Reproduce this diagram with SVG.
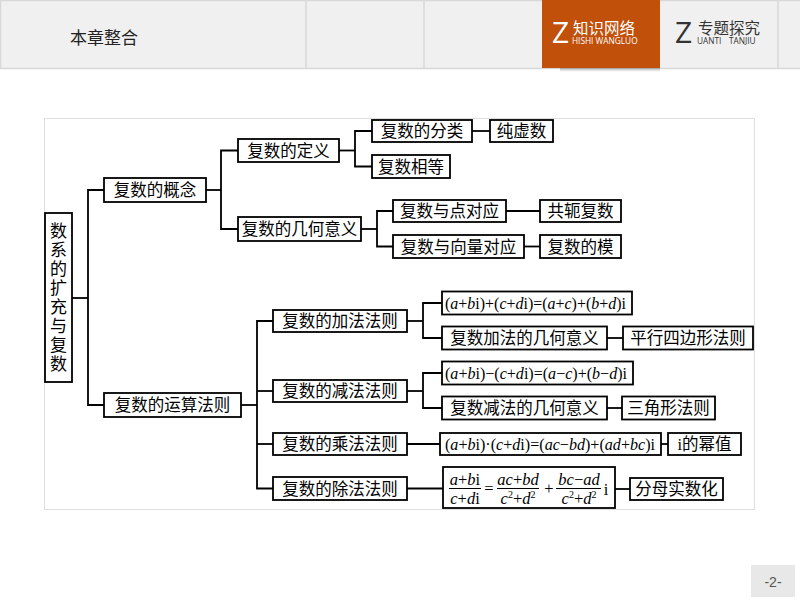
<svg xmlns="http://www.w3.org/2000/svg" width="800" height="600" viewBox="0 0 800 600">
<defs>
<style>
.box{fill:#fff;stroke:#000;stroke-width:1.8}
.t{font-family:"Noto Sans CJK SC","Noto Sans CJK JP",sans-serif;font-size:16.5px;text-anchor:middle;fill:#000}
.f{font-family:"Liberation Serif","Noto Sans CJK SC",serif;font-size:17px;fill:#000}
.fm{font-family:"Liberation Serif","Noto Sans CJK SC",serif;font-size:16.5px;fill:#000;text-anchor:middle}
.v{font-style:italic}
#connectors path{fill:none;stroke:#000;stroke-width:1.8}
.hdr{fill:#f0f0f0;stroke:none}
.div{stroke:#d8d8d8;stroke-width:1.5}
.zl{font-family:"Open Sans","Liberation Sans",sans-serif;font-size:30px}
.zc{font-family:"Noto Sans CJK SC",sans-serif;font-size:15.5px}
.zs{font-family:"Open Sans","Liberation Sans",sans-serif;font-size:8.3px}
</style>
<linearGradient id="sh" x1="0" y1="0" x2="0" y2="1">
<stop offset="0" stop-color="#000" stop-opacity="0.25"/>
<stop offset="1" stop-color="#000" stop-opacity="0"/>
</linearGradient>
</defs>
<rect width="800" height="600" fill="#fff"/>
<!-- header -->
<g id="header">
<rect class="hdr" x="0" y="0" width="800" height="68"/>
<line class="div" x1="0" y1="68.5" x2="800" y2="68.5"/>
<line class="div" x1="0" y1="0.5" x2="800" y2="0.5"/>
<line class="div" x1="0.5" y1="0" x2="0.5" y2="68"/>
<line class="div" x1="306" y1="0" x2="306" y2="68"/>
<line class="div" x1="424" y1="0" x2="424" y2="68"/>
<line class="div" x1="778" y1="0" x2="778" y2="68"/>
<text x="70" y="44" font-family="'Noto Sans CJK SC',sans-serif" font-size="17" fill="#222">本章整合</text>
<rect x="560" y="68" width="100" height="4" fill="url(#sh)"/>
<rect x="542" y="0" width="118" height="68" fill="#c0500a"/>
<text fill="#fff"><tspan class="zl" x="552" y="43">Z</tspan><tspan class="zc" x="573" y="34">知识网络</tspan><tspan class="zs" x="572" y="43.5">HISHI WANGLUO</tspan></text>
<text fill="#333"><tspan class="zl" x="675" y="43">Z</tspan><tspan class="zc" x="698" y="34">专题探究</tspan><tspan class="zs" x="697" y="43.5">UANTI</tspan><tspan class="zs" x="729" y="43.5">TANJIU</tspan></text>
</g>
<!-- panel -->
<rect x="44.5" y="118.5" width="710" height="391" fill="#fff" stroke="#dedede" stroke-width="1"/>
<!-- connectors -->
<g id="connectors">
<path d="M72,298 H88"/>
<path d="M104,190 H88 V405 H104"/>
<path d="M206,190 H221"/>
<path d="M238,150.5 H221 V229 H238"/>
<path d="M339,150.5 H355"/>
<path d="M372,131 H355 V166.5 H372"/>
<path d="M472,131 H490"/>
<path d="M361,229 H377"/>
<path d="M393,211 H377 V246.5 H393"/>
<path d="M506,211 H540"/>
<path d="M524,246.5 H540"/>
<path d="M241,405 H257"/>
<path d="M273,321 H257 V488.5 H273"/>
<path d="M257,391 H273"/>
<path d="M257,444 H273"/>
<path d="M407,321 H423"/>
<path d="M442,303 H423 V338 H442"/>
<path d="M407,391 H423"/>
<path d="M442,373 H423 V408 H442"/>
<path d="M407,444 H440"/>
<path d="M661,444 H668"/>
<path d="M407,488.5 H443"/>
<path d="M615,489 H630"/>
<path d="M607,338 H623"/>
<path d="M607,408 H622"/>
</g>
<!-- nodes -->
<g id="n-root"><rect class="box" x="45" y="213" width="27" height="169"/>
<text x="58.5" y="222" font-family="'Noto Sans CJK SC',sans-serif" font-size="17" fill="#000" style="writing-mode:vertical-rl;text-orientation:upright;letter-spacing:2px">数系的扩充与复数</text></g>
<g id="n-gainian"><rect class="box" x="104" y="178" width="102" height="24"/><text class="t" x="155" y="196">复数的概念</text></g>
<g id="n-yunsuan"><rect class="box" x="104" y="393" width="137" height="24"/><text class="t" x="172.5" y="411">复数的运算法则</text></g>
<g id="n-dingyi"><rect class="box" x="238" y="139" width="101" height="23"/><text class="t" x="288.5" y="156.5">复数的定义</text></g>
<g id="n-jihe"><rect class="box" x="238" y="217" width="123" height="24"/><text class="t" x="299.5" y="235">复数的几何意义</text></g>
<g id="n-fenlei"><rect class="box" x="372" y="120" width="100" height="22"/><text class="t" x="422" y="137">复数的分类</text></g>
<g id="n-chunxu"><rect class="box" x="490" y="120" width="63" height="22"/><text class="t" x="521.5" y="137">纯虚数</text></g>
<g id="n-xiangdeng"><rect class="box" x="372" y="155" width="78" height="23"/><text class="t" x="411" y="172.5">复数相等</text></g>
<g id="n-dian"><rect class="box" x="393" y="200" width="113" height="22"/><text class="t" x="449.5" y="217">复数与点对应</text></g>
<g id="n-gonge"><rect class="box" x="540" y="200" width="81" height="22"/><text class="t" x="580.5" y="217">共轭复数</text></g>
<g id="n-xiangliang"><rect class="box" x="393" y="235" width="131" height="23"/><text class="t" x="458.5" y="252.5">复数与向量对应</text></g>
<g id="n-mo"><rect class="box" x="540" y="235" width="81" height="23"/><text class="t" x="580.5" y="252.5">复数的模</text></g>
<g id="n-jia"><rect class="box" x="273" y="310" width="134" height="22"/><text class="t" x="340" y="327">复数的加法法则</text></g>
<g id="n-jian"><rect class="box" x="273" y="380" width="134" height="22"/><text class="t" x="340" y="397">复数的减法法则</text></g>
<g id="n-cheng"><rect class="box" x="273" y="433" width="134" height="22"/><text class="t" x="340" y="450">复数的乘法法则</text></g>
<g id="n-chu"><rect class="box" x="273" y="477" width="134" height="23"/><text class="t" x="340" y="494.5">复数的除法法则</text></g>
<g id="n-f1"><rect class="box" x="442" y="291.5" width="190" height="23"/>
<text class="f" x="445" y="309" textLength="181" lengthAdjust="spacingAndGlyphs">(<tspan class="v">a</tspan>+<tspan class="v">b</tspan>i)+(<tspan class="v">c</tspan>+<tspan class="v">d</tspan>i)=(<tspan class="v">a</tspan>+<tspan class="v">c</tspan>)+(<tspan class="v">b</tspan>+<tspan class="v">d</tspan>)i</text></g>
<g id="n-jiajihe"><rect class="box" x="442" y="326.5" width="165" height="23"/><text class="t" x="524.5" y="344">复数加法的几何意义</text></g>
<g id="n-pingxing"><rect class="box" x="623" y="326.5" width="130" height="23"/><text class="t" x="688" y="344">平行四边形法则</text></g>
<g id="n-f2"><rect class="box" x="442" y="361.5" width="191" height="23"/>
<text class="f" x="445" y="379" textLength="182" lengthAdjust="spacingAndGlyphs">(<tspan class="v">a</tspan>+<tspan class="v">b</tspan>i)−(<tspan class="v">c</tspan>+<tspan class="v">d</tspan>i)=(<tspan class="v">a</tspan>−<tspan class="v">c</tspan>)+(<tspan class="v">b</tspan>−<tspan class="v">d</tspan>)i</text></g>
<g id="n-jianjihe"><rect class="box" x="442" y="396.5" width="165" height="23"/><text class="t" x="524.5" y="414">复数减法的几何意义</text></g>
<g id="n-sanjiao"><rect class="box" x="622" y="396.5" width="93" height="23"/><text class="t" x="668.5" y="414">三角形法则</text></g>
<g id="n-f3"><rect class="box" x="440" y="433" width="221" height="22"/>
<text class="f" x="445" y="450" textLength="210" lengthAdjust="spacingAndGlyphs">(<tspan class="v">a</tspan>+<tspan class="v">b</tspan>i)·(<tspan class="v">c</tspan>+<tspan class="v">d</tspan>i)=(<tspan class="v">ac</tspan>−<tspan class="v">bd</tspan>)+(<tspan class="v">ad</tspan>+<tspan class="v">bc</tspan>)i</text></g>
<g id="n-mizhi"><rect class="box" x="668" y="433" width="73" height="22"/><text class="t" x="704.5" y="450"><tspan font-family="'Liberation Serif',serif">i</tspan>的幂值</text></g>
<g id="n-f4"><rect class="box" x="443" y="467" width="172" height="41"/>
<text class="fm" x="465" y="484.5"><tspan class="v">a</tspan>+<tspan class="v">b</tspan>i</text>
<line x1="449" y1="488.5" x2="481" y2="488.5" stroke="#000" stroke-width="1"/>
<text class="fm" x="465" y="503.5"><tspan class="v">c</tspan>+<tspan class="v">d</tspan>i</text>
<text class="fm" x="489" y="494">=</text>
<text class="fm" x="518" y="484.5"><tspan class="v">ac</tspan>+<tspan class="v">bd</tspan></text>
<line x1="497" y1="488.5" x2="539" y2="488.5" stroke="#000" stroke-width="1"/>
<text class="fm" x="518" y="503.5"><tspan class="v">c</tspan><tspan font-size="10" dy="-6">2</tspan><tspan dy="6">+</tspan><tspan class="v">d</tspan><tspan font-size="10" dy="-6">2</tspan></text>
<text class="fm" x="549" y="494">+</text>
<text class="fm" x="579" y="484.5"><tspan class="v">bc</tspan>−<tspan class="v">ad</tspan></text>
<line x1="556" y1="488.5" x2="601" y2="488.5" stroke="#000" stroke-width="1"/>
<text class="fm" x="579" y="503.5"><tspan class="v">c</tspan><tspan font-size="10" dy="-6">2</tspan><tspan dy="6">+</tspan><tspan class="v">d</tspan><tspan font-size="10" dy="-6">2</tspan></text>
<text class="fm" x="606" y="495">i</text>
</g>
<g id="n-fenmu"><rect class="box" x="630" y="478" width="93" height="22"/><text class="t" x="676.5" y="495">分母实数化</text></g>
<!-- page number -->
<g id="page">
<rect x="751" y="565" width="44" height="32" fill="#e8e8e8"/>
<text x="773" y="587" font-family="'Liberation Sans',sans-serif" font-size="14" fill="#555" text-anchor="middle">-2-</text>
</g>
</svg>
